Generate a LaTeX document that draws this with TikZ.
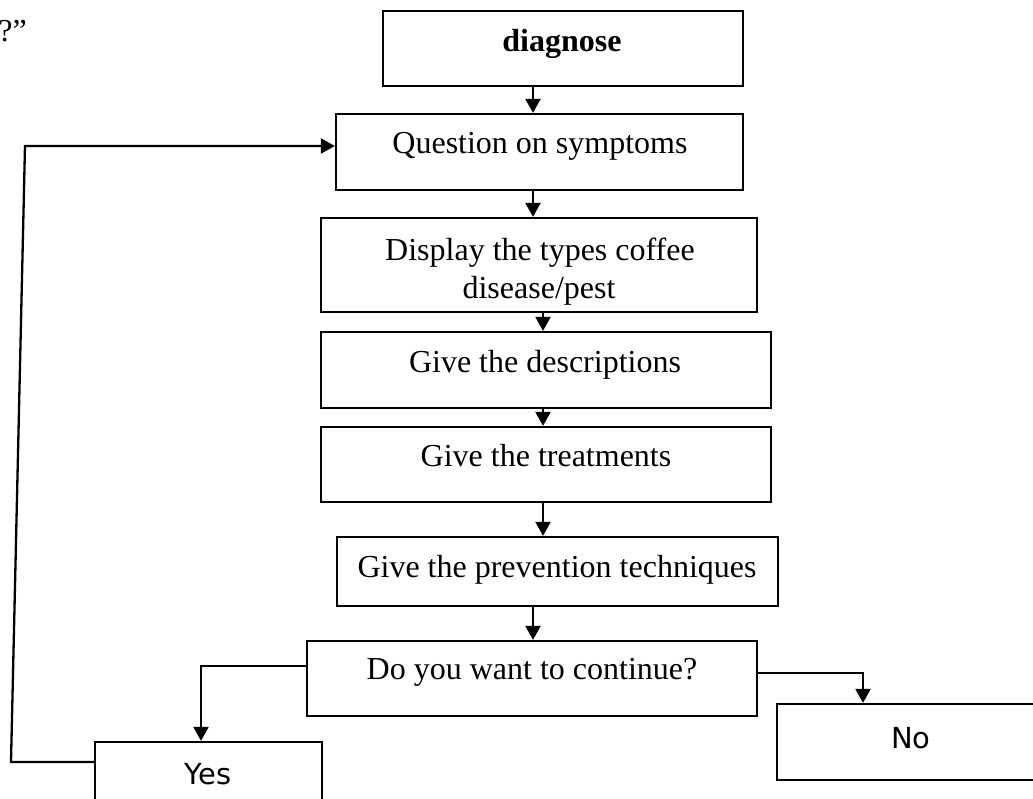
\documentclass[tikz,border=0pt]{standalone}
\usepackage{fontspec}
\setmainfont{Liberation Serif}
\newfontfamily\labelsans{DejaVu Sans}
\usetikzlibrary{arrows.meta,calc}

\tikzset{
  stage/.style={draw, line width=2.3pt, rectangle, inner sep=0pt},
  caption/.style={font=\fontsize{32}{37}\selectfont, inner sep=0pt, anchor=base},
  answer/.style={font=\labelsans\fontsize{29}{34}\selectfont, inner sep=0pt, anchor=base},
  flow/.style={line width=2.3pt, -{Triangle[width=15pt,length=14pt]}},
}

\begin{document}
\begin{tikzpicture}[x=1pt,y=-1pt]
  % page frame, one unit per pixel, y growing downwards
  \useasboundingbox (0,0) rectangle (1033,799);
  \fill[white] (0,0) rectangle (1033,799);
  \clip (0,0) rectangle (1033,799);

  % tail of the preceding sentence
  \node[caption, anchor=base east] (tail) at (27,42) {?”};

  % process boxes
  \node[stage, minimum width=360pt, minimum height=75pt] (diag)  at (563,48.5)  {};
  \node[stage, minimum width=407pt, minimum height=76pt] (q)     at (539.5,152) {};
  \node[stage, minimum width=436pt, minimum height=94pt] (disp)  at (539,265)   {};
  \node[stage, minimum width=450pt, minimum height=76pt] (desc)  at (546,370)   {};
  \node[stage, minimum width=450pt, minimum height=75pt] (treat) at (546,464.5) {};
  \node[stage, minimum width=441pt, minimum height=69pt] (prev)  at (557.5,571.5) {};
  \node[stage, minimum width=450pt, minimum height=75pt] (cont)  at (532,678.5) {};
  \node[stage, minimum width=227pt, minimum height=88pt] (yes)   at (208.5,786) {};
  \node[stage, minimum width=268pt, minimum height=76pt] (no)    at (911,742)   {};

  % box texts
  \node[caption, font=\fontsize{32}{37}\selectfont\bfseries] (diagT) at (562,52) {diagnose};
  \node[caption] (qT)     at (540,154) {Question on symptoms};
  \node[caption] (dispT1) at (540,261) {Display the types coffee};
  \node[caption] (dispT2) at (539,299) {disease/pest};
  \node[caption] (descT)  at (545,372) {Give the descriptions};
  \node[caption] (treatT) at (546,466) {Give the treatments};
  \node[caption] (prevT)  at (557,577) {Give the prevention techniques};
  \node[caption] (contT)  at (532,679) {Do you want to continue?};
  \node[answer]  (yesT)   at (208,784) {Yes};
  \node[answer]  (noT)    at (911,748) {No};

  % connector guide points
  \coordinate (xa) at (533,0);
  \coordinate (xb) at (543,0);
  \coordinate (yb) at (201,666);
  \coordinate (nb) at (863,673);
  \coordinate (lb) at (11,762);
  \coordinate (lt) at (25,146);

  % main sequence
  \draw[flow] (diag.south -| xa)  -- (q.north -| xa);
  \draw[flow] (q.south -| xa)     -- (disp.north -| xa);
  \draw[flow] (disp.south -| xb)  -- (desc.north -| xb);
  \draw[flow] (desc.south -| xb)  -- (treat.north -| xb);
  \draw[flow] (treat.south -| xb) -- (prev.north -| xb);
  \draw[flow] (prev.south -| xa)  -- (cont.north -| xa);

  % decision branches
  \draw[flow] (cont.west |- yb) -- (yb) -- (yes.north -| yb);
  \draw[flow] (cont.east |- nb) -- (nb) -- (no.north -| nb);

  % loop back to the questions
  \draw[flow] (yes.west |- lb) -- (lb) -- (lt) -- (q.west |- lt);
\end{tikzpicture}
\end{document}
